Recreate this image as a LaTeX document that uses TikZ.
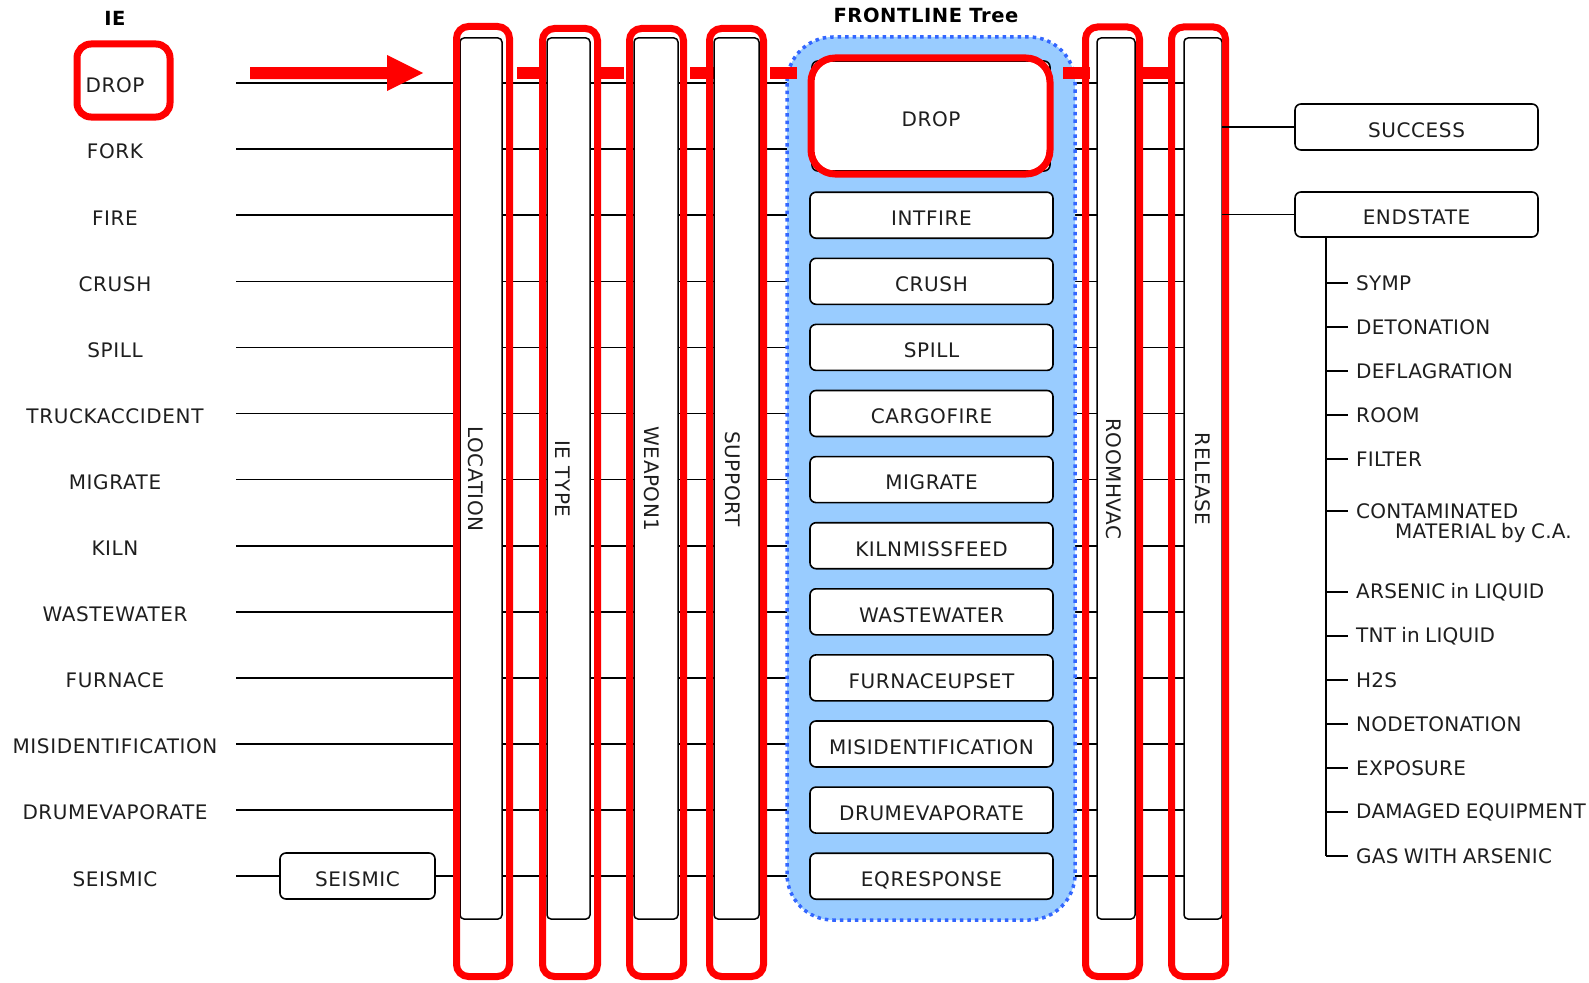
\documentclass[tikz,border=0pt]{standalone}
\usepackage{fontspec}
\setmainfont{DejaVu Sans}[LetterSpace=3]
\newfontfamily\rfont{DejaVu Sans}[LetterSpace=1.2,WordSpace=0.8]
\definecolor{hlred}{RGB}{255,0,0}
\definecolor{flblue}{RGB}{153,204,255}
\definecolor{fldot}{RGB}{51,102,255}
\definecolor{txt}{RGB}{30,30,30}
\begin{document}
\begin{tikzpicture}[x=1pt,y=-1pt,
  lbl/.style={font=\fontsize{20}{24}\selectfont, text=txt, inner sep=0pt},
  llbl/.style={lbl, text height=19.6pt, text depth=0pt},
  rlbl/.style={font=\rfont\fontsize{20}{24}\selectfont, text=txt, inner sep=0pt},
  ttl/.style={font=\fontsize{19.5}{24}\selectfont\bfseries, text=black, inner sep=0pt},
  box/.style={draw=black, line width=1.6pt, rounded corners=6pt, fill=white,
              font=\fontsize{20}{24}\selectfont, text=txt, inner sep=0pt,
              text height=20.6pt, text depth=0pt},
  colbox/.style={draw=black, line width=1.5pt, rounded corners=4pt, fill=white},
  hl/.style={draw=hlred, line width=7pt, rounded corners=12pt},
  row/.style={draw=black, line width=1.6pt},
  hlseg/.style={fill=hlred},
  clabel/.style={font=\fontsize{20}{24}\selectfont, text=txt, inner sep=0pt, rotate=-90}
]
\useasboundingbox (0,0) rectangle (1589,982);

% ---------- row lines and left labels ----------
\foreach \lab [count=\i from 0] in {DROP,FORK,FIRE,CRUSH,SPILL,TRUCKACCIDENT,MIGRATE,KILN,WASTEWATER,FURNACE,MISIDENTIFICATION,DRUMEVAPORATE,SEISMIC}{
  \pgfmathsetmacro\yy{83+66.1*\i}
  \node[llbl] (L\i) at (115,\yy) {\lab};
  \coordinate (S\i) at (236,\yy);
  \coordinate (B\i) at (787,\yy);
  \coordinate (R\i) at (1075,\yy);
  \coordinate (E\i) at (1184,\yy);
  \draw[row] (S\i) -- (B\i);
  \draw[row] (R\i) -- (E\i);
}

% SEISMIC box on the last row
\node[box, minimum width=155pt, minimum height=46pt] (seis) at (357.5,876) {SEISMIC};

% IE title and highlight
\node[ttl] (ie) at (115,18) {IE};
\draw[hl, rounded corners=14pt] (77,44) rectangle (170,117);

% red arrow
\fill[hlred] (250,67) -- (387,67) -- (387,55) -- (423,73) -- (387,91) -- (387,79) -- (250,79) -- cycle;

% ---------- frontline tree ----------
\node[ttl] (fltitle) at (926,15) {FRONTLINE Tree};
\draw[fill=flblue, draw=fldot, line width=3.5pt, dash pattern=on 3.5pt off 4pt, rounded corners=46pt]
  (787,37) rectangle (1075,920);
\node[box, minimum width=238pt, minimum height=110pt] (F0) at (931,116) {DROP};
\draw[hl, rounded corners=24pt] (811,58) rectangle (1050,174);
\foreach \lab [count=\i from 2] in {INTFIRE,CRUSH,SPILL,CARGOFIRE,MIGRATE,KILNMISSFEED,WASTEWATER,FURNACEUPSET,MISIDENTIFICATION,DRUMEVAPORATE,EQRESPONSE}{
  \pgfmathsetmacro\yy{83+66.1*\i}
  \node[box, minimum width=243pt, minimum height=46pt] (F\i) at (931.5,\yy) {\lab};
}

% ---------- red path segments ----------
\foreach \a/\b in {517/540,597/624,690/717,770/797,1063/1090,1142/1169}
  \fill[hlseg] (\a,67) rectangle (\b,79);

% ---------- columns ----------
\foreach \nm/\il/\ir/\rl/\rr/\rt/\lab/\lx in {
  loc/460/502/456.5/509.5/26.5/LOCATION/476,
  ietype/547/590/542.5/597.5/28.5/IE TYPE/563,
  weapon/634/678/629.5/683.5/28.5/WEAPON1/652,
  support/714/759/709.5/763.5/28.5/SUPPORT/733,
  roomhvac/1097/1135/1085.5/1139.5/27/ROOMHVAC/1114,
  release/1184/1222/1171.5/1225.5/27/RELEASE/1203}{
  \path[colbox] (\il,38) rectangle (\ir,919);
  \node[clabel] (\nm) at (\lx,479) {\lab};
  \draw[hl] (\rl,\rt) rectangle (\rr,976.5);
}

% ---------- end states ----------
\node[box, minimum width=243pt, minimum height=46pt] (succ) at (1416.5,127) {SUCCESS};
\node[box, minimum width=243pt, minimum height=45pt] (endst) at (1416.5,214.5) {ENDSTATE};
\coordinate (relS) at (1222,127);
\coordinate (relE) at (1222,214.5);
\draw[row] (relS) -- (succ.west);
\draw[row] (relE) -- (endst.west);

\coordinate (tx) at (1326,0);
\coordinate (tend) at (1326,856);
\draw[row] (endst.south -| tx) -- (tend);
\foreach \lab/\yy in {SYMP/283,DETONATION/327,DEFLAGRATION/371,ROOM/415,FILTER/459,CONTAMINATED/511,ARSENIC in LIQUID/592,TNT in LIQUID/636,H2S/680,NODETONATION/724,EXPOSURE/768,DAMAGED EQUIPMENT/812,GAS WITH ARSENIC/856}{
  \node[rlbl, anchor=west] (es\yy) at (1356,\yy) {\lab};
  \coordinate (tk\yy) at (1326,\yy);
  \draw[row] (tk\yy) -- ([xshift=-8pt]es\yy.west);
}
\node[rlbl, anchor=base west] (matl) at (1395,538.3) {MATERIAL by C.A.};
\end{tikzpicture}
\end{document}
